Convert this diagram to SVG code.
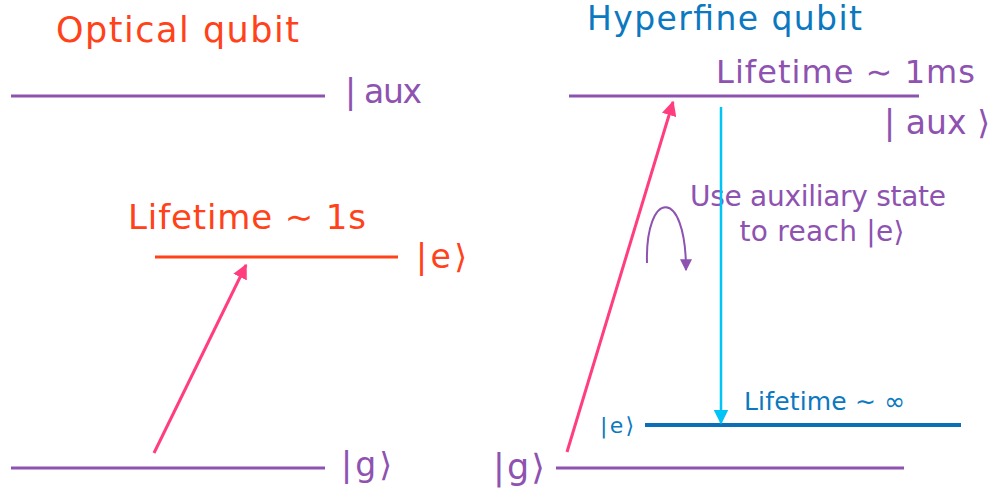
<svg xmlns="http://www.w3.org/2000/svg" width="992" height="490" viewBox="0 0 992 490">
<style>
text{font-family:"DejaVu Sans","Open Sans",sans-serif}
.pu{fill:#8e52b0}.or{fill:#ff4219}.bl{fill:#0b78c0}
.lpu{stroke:#8e52b0;stroke-width:3;fill:none}
.lor{stroke:#ff4219;stroke-width:3;fill:none}
.lbl{stroke:#0a6fb8;stroke-width:4;fill:none}
.pink{stroke:#ff3d7f;stroke-width:3;fill:none}
.cyan{stroke:#00c4f5;stroke-width:2.5;fill:none}
</style>
<defs>
<marker id="mp" viewBox="0 0 10 10" refX="9" refY="5" markerWidth="5" markerHeight="5" markerUnits="strokeWidth" orient="auto"><path d="M0,0 L10,5 L0,10 z" fill="#ff3d7f"/></marker>
<marker id="mc" viewBox="0 0 10 10" refX="9" refY="5" markerWidth="6" markerHeight="6" markerUnits="strokeWidth" orient="auto"><path d="M0,0 L10,5 L0,10 z" fill="#00c4f5"/></marker>
<marker id="mv" viewBox="0 0 10 10" refX="9" refY="5" markerWidth="6" markerHeight="6" markerUnits="strokeWidth" orient="auto"><path d="M0,0 L10,5 L0,10 z" fill="#8e52b0"/></marker>
</defs>
<g id="title-optical"><text class="or" x="56" y="42" font-size="35" textLength="243">Optical qubit</text></g>
<g id="title-hyperfine"><text class="bl" x="587" y="30" font-size="33" textLength="275">Hyperfine qubit</text></g>
<g id="opt-aux"><line class="lpu" x1="11" y1="96" x2="325" y2="96"/><text class="pu" x="345" y="103" font-size="33" textLength="77">| aux</text></g>
<g id="opt-e"><line class="lor" x1="155" y1="257" x2="398" y2="257"/><text class="or" x="128" y="229" font-size="34" textLength="238">Lifetime ∼ 1s</text><text class="or" x="416" y="268" font-size="33" textLength="51">|e⟩</text></g>
<g id="opt-g"><line class="lpu" x1="11" y1="468" x2="325" y2="468"/><text class="pu" x="341" y="476" font-size="33" textLength="51">|g⟩</text></g>
<g id="hf-aux"><line class="lpu" x1="569" y1="96" x2="919" y2="96"/><text class="pu" x="716" y="83" font-size="32" textLength="259">Lifetime ∼ 1ms</text><text class="pu" x="884" y="134" font-size="33" textLength="106">| aux ⟩</text></g>
<g id="hf-e"><line class="lbl" x1="645" y1="425" x2="961" y2="425"/><text class="bl" x="600" y="433" font-size="22" textLength="34">|e⟩</text><text class="bl" x="744" y="410" font-size="25" textLength="161">Lifetime ∼ ∞</text></g>
<g id="hf-g"><line class="lpu" x1="556" y1="468" x2="904" y2="468"/><text class="pu" x="493" y="479" font-size="35" textLength="52">|g⟩</text></g>
<g id="note"><text class="pu" x="818" y="206" font-size="28" text-anchor="middle" textLength="256">Use auxiliary state</text><text class="pu" x="822" y="241" font-size="28" text-anchor="middle" textLength="165">to reach |e⟩</text></g>
<g id="connectors">
<line class="pink" x1="154" y1="453" x2="246" y2="265" marker-end="url(#mp)"/>
<line class="pink" x1="567" y1="452" x2="673" y2="102" marker-end="url(#mp)"/>
<line class="cyan" x1="721" y1="107" x2="721" y2="423" marker-end="url(#mc)"/>
<path d="M647,263 C645,190 686,185 686,270" stroke="#8e52b0" stroke-width="2" fill="none" marker-end="url(#mv)"/>
</g>
</svg>
